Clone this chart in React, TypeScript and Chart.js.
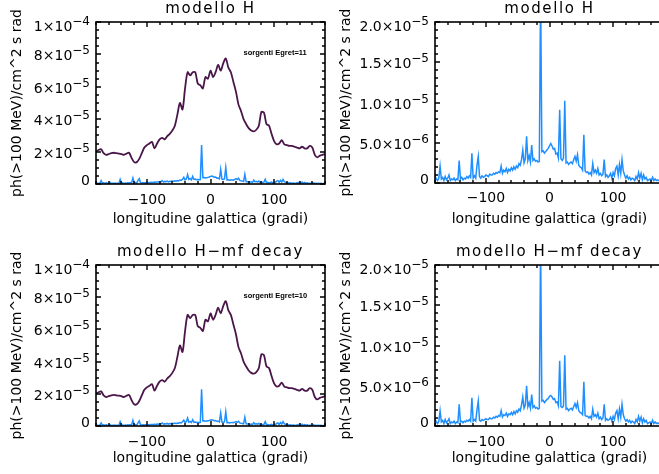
import React, { useEffect, useRef } from 'react';
import { Chart, registerables } from 'chart.js';

Chart.register(...registerables);

// ---------------- data ----------------
const LON_MIN = -180;
const LON_MAX = 180;
const TOTAL_STEP = 4; // degrees between samples of the total profile
const SRC_STEP = 2; // degrees between samples of the source profiles

const xTickValues = [-100, 0, 100];
const xTickLabels = ['\u2212100', '0', '100'];
const xMinorStep = 20;

const yTicksWide = [0, 2e-5, 4e-5, 6e-5, 8e-5, 1e-4];
const yLabelsWide = ['0', '2\u00d710^\u22125', '4\u00d710^\u22125', '6\u00d710^\u22125', '8\u00d710^\u22125', '1\u00d710^\u22124'];
const yMinorWide = 5e-6;

const yTicksZoom = [0, 5e-6, 1e-5, 1.5e-5, 2e-5];
const yLabelsZoom = ['0', '5.0\u00d710^\u22126', '1.0\u00d710^\u22125', '1.5\u00d710^\u22125', '2.0\u00d710^\u22125'];
const yMinorZoom = 1e-6;

// total emission (units of 1e-5), l = -180 .. 180 every 4 deg
const totalFlux = [
  2.0, 2.1, 2.15, 1.9, 1.8, 1.85, 1.9, 1.93, 1.9, 1.88,
  1.85, 1.8, 1.88, 1.93, 1.6, 1.35, 1.35, 1.55, 1.9, 2.25,
  2.4, 2.5, 2.6, 2.2, 2.5, 2.75, 2.85, 2.75, 2.95, 3.1,
  3.3, 3.6, 4.3, 5.0, 4.6, 5.9, 6.9, 6.7, 6.9, 6.9,
  6.2, 6.1, 5.9, 6.6, 6.5, 7.0, 6.6, 6.9, 7.35, 7.0,
  7.45, 7.75, 7.2, 6.9, 6.3, 5.7, 4.9, 4.5, 4.0, 3.7,
  3.45, 3.3, 3.25, 3.35, 3.6, 4.45, 4.4, 3.7, 3.6, 3.1,
  2.65, 2.45, 2.5, 2.7, 2.45, 2.4, 2.35, 2.35, 2.3, 2.25,
  2.2, 2.3, 2.2, 2.2, 2.35, 2.25, 1.8, 1.65, 1.75, 1.8,
  1.85,
];

// source contribution, modello H (units of 1e-6), l = -180 .. 180 every 2 deg
const srcFluxH = [
  0.9, 0.5, 0.3, 0.6, 2.1, 0.5, 0.7, 0.3, 0.8, 0.4,
  0.6, 1.0, 0.3, 0.5, 0.4, 0.6, 0.3, 0.5, 0.4, 2.8,
  0.5, 0.7, 0.4, 0.6, 0.5, 0.8, 0.6, 0.9, 0.7, 3.7,
  0.6, 0.9, 0.6, 2.2, 3.3, 0.8, 0.6, 0.9, 0.7, 0.8,
  1.0, 0.9, 0.8, 1.1, 1.0, 1.0, 1.2, 1.1, 1.3, 1.2,
  1.4, 1.3, 2.1, 1.2, 1.6, 1.4, 1.8, 1.3, 1.7, 1.5,
  1.9, 1.6, 2.0, 1.7, 2.1, 1.9, 2.4, 2.2, 2.9, 4.1,
  2.5, 3.0, 5.8, 2.8, 3.4, 2.6, 4.7, 2.8, 3.0, 2.7,
  2.8, 2.6, 2.7, 24.0, 3.9, 4.0, 3.7, 3.9, 4.1, 4.3,
  4.6, 4.9, 4.6, 4.2, 4.3, 3.6, 3.7, 3.1, 9.1, 3.0,
  2.8, 3.1, 10.2, 2.5, 2.6, 2.3, 2.5, 2.6, 2.4, 2.9,
  3.3, 2.7, 3.5, 2.2, 2.0, 1.9, 1.6, 6.0, 1.5, 1.3,
  1.4, 1.1, 1.3, 1.0, 2.4, 1.3, 1.6, 1.2, 1.8, 1.0,
  1.2, 0.9, 1.1, 2.9, 0.8, 1.0, 0.7, 0.9, 1.2, 0.6,
  1.3, 0.9, 1.8, 2.1, 1.0, 2.3, 1.2, 2.9, 1.5, 1.0,
  0.6, 0.9, 0.5, 0.7, 0.4, 0.6, 0.5, 0.3, 0.8, 0.5,
  1.3, 0.6, 1.2, 0.4, 1.0, 0.5, 0.7, 0.3, 0.4, 0.5,
  0.3, 0.7, 0.3, 0.5, 0.3, 0.4, 0.3, 0.4, 0.2, 0.3,
  0.3,
];

// source contribution, modello H-mf decay (units of 1e-6)
const srcFluxHmf = [
  0.9, 0.5, 0.3, 0.6, 1.9, 0.5, 0.7, 0.3, 0.8, 0.4,
  0.6, 0.9, 0.3, 0.5, 0.4, 0.6, 0.3, 0.5, 0.4, 2.7,
  0.5, 0.6, 0.4, 0.6, 0.5, 0.7, 0.6, 0.8, 0.6, 3.5,
  0.6, 0.8, 0.6, 2.0, 3.1, 0.7, 0.6, 0.8, 0.7, 0.8,
  0.9, 0.8, 0.8, 1.0, 0.9, 0.9, 1.1, 1.0, 1.2, 1.1,
  1.3, 1.2, 1.9, 1.1, 1.4, 1.3, 1.6, 1.2, 1.5, 1.4,
  1.7, 1.4, 1.8, 1.5, 1.9, 1.7, 2.1, 1.9, 2.6, 3.6,
  2.2, 2.6, 5.0, 2.4, 2.9, 2.2, 3.9, 2.3, 2.5, 2.2,
  2.3, 2.1, 2.2, 22.8, 3.1, 3.2, 2.9, 3.1, 3.3, 3.4,
  3.7, 3.8, 3.6, 3.3, 3.4, 2.9, 3.0, 2.5, 8.1, 2.4,
  2.3, 2.5, 8.8, 2.1, 2.2, 1.9, 2.1, 2.2, 2.0, 2.4,
  2.8, 2.3, 2.9, 1.9, 1.7, 1.6, 1.4, 5.5, 1.3, 1.2,
  1.2, 1.0, 1.2, 0.9, 2.1, 1.2, 1.4, 1.1, 1.6, 0.9,
  1.1, 0.8, 1.0, 2.7, 0.7, 0.9, 0.7, 0.8, 1.1, 0.6,
  1.2, 0.8, 1.6, 1.9, 0.9, 2.1, 1.1, 2.7, 1.4, 0.9,
  0.6, 0.8, 0.5, 0.7, 0.4, 0.6, 0.5, 0.3, 0.8, 0.5,
  1.2, 0.6, 1.1, 0.4, 0.9, 0.5, 0.7, 0.3, 0.4, 0.5,
  0.3, 0.7, 0.3, 0.5, 0.3, 0.4, 0.3, 0.4, 0.2, 0.3,
  0.3,
];

const TOTAL_UNIT = 1e-5;
const SRC_UNIT = 1e-6;

// ---------------- style ----------------
const FONT = 'DejaVu Sans';
const PURPLE = '#4a164a';
const BLUE = '#1f8fff';

const toPoints = (vals: number[], step: number, unit: number) =>
  vals.map((v, i) => ({ x: LON_MIN + i * step, y: v * unit }));

function drawFrame(chart: any, opts: any) {
  const ctx = chart.ctx;
  const a = chart.chartArea;
  const xs = chart.scales.x;
  const ys = chart.scales.y;
  ctx.save();
  ctx.globalAlpha = 1;
  ctx.setLineDash([]);
  ctx.strokeStyle = '#000000';
  const L = Math.round(a.left);
  const R = Math.round(a.right);
  const T = Math.round(a.top);
  const B = Math.round(a.bottom);
  ctx.lineWidth = 1.6;
  ctx.strokeRect(L, T, R - L, B - T);
  ctx.lineWidth = 1.4;
  ctx.beginPath();
  const nx = Math.round((LON_MAX - LON_MIN) / xMinorStep);
  for (let i = 0; i <= nx; i++) {
    const v = LON_MIN + i * xMinorStep;
    const len = xTickValues.includes(v) ? 5 : 3;
    const p = Math.round(xs.getPixelForValue(v));
    ctx.moveTo(p, B); ctx.lineTo(p, B - len);
    ctx.moveTo(p, T); ctx.lineTo(p, T + len);
  }
  const ticks: number[] = opts.yTicks;
  const major = ticks[1] - ticks[0];
  const ny = Math.round(ticks[ticks.length - 1] / opts.yMinor);
  const per = Math.round(major / opts.yMinor);
  for (let i = 0; i <= ny; i++) {
    const v = i * opts.yMinor;
    const len = i % per === 0 ? 5 : 3;
    const p = Math.round(ys.getPixelForValue(v));
    ctx.moveTo(L, p); ctx.lineTo(L + len, p);
    ctx.moveTo(R, p); ctx.lineTo(R - len, p);
  }
  ctx.stroke();
  ctx.restore();
}

const idlFrame = {
  id: 'idlFrame',
  beforeDraw(chart: any) {
    try { chart.ctx.letterSpacing = '1.6px'; } catch (e) {}
  },
  beforeDatasetsDraw(chart: any) {
    try { chart.ctx.letterSpacing = '0px'; } catch (e) {}
  },
  afterDraw(chart: any, _args: any, opts: any) {
    const ctx = chart.ctx;
    const a = chart.chartArea;
    const xs = chart.scales.x;
    const ys = chart.scales.y;
    drawFrame(chart, opts);
    ctx.save();
    try { ctx.letterSpacing = '0px'; } catch (e) {}
    ctx.fillStyle = '#000';
    ctx.textAlign = 'right';
    ctx.textBaseline = 'alphabetic';
    const ticks: number[] = opts.yTicks;
    ticks.forEach((v: number, i: number) => {
      const [base, exp] = opts.yLabels[i].split('^');
      const py = ys.getPixelForValue(v);
      const cy = Math.min(Math.max(py + 1, a.top + 4), a.bottom - 4);
      const baseY = cy + 5;
      let rx = a.left - 6;
      if (exp) {
        ctx.font = `12px "${FONT}"`;
        ctx.fillText(exp, rx, baseY - 6);
        rx -= ctx.measureText(exp).width;
      }
      ctx.font = `14px "${FONT}"`;
      ctx.fillText(base, rx, baseY);
    });
    if (opts.note) {
      ctx.font = `bold 7.5px "Liberation Sans"`;
      ctx.textAlign = 'left';
      ctx.textBaseline = 'middle';
      ctx.fillText(opts.note, xs.getPixelForValue(52), ys.getPixelForValue(8.1e-5));
    }
    ctx.restore();
  },
};

type PanelDef = {
  key: string;
  left: number;
  top: number;
  width: number;
  height: number;
  title: string;
  titlePadTop: number;
  titlePadBottom: number;
  yAxisWidth: number;
  xAxisHeight: number;
  padRight: number;
  xTickPad: number;
  xTitlePadBottom: number;
  zoomed: boolean;
  src: number[];
  note: string;
};

const panels: PanelDef[] = [
  { key: 'tl', left: 0, top: 0, width: 330, height: 237, title: 'modello H', titlePadTop: 0, titlePadBottom: 4,
    yAxisWidth: 96, xAxisHeight: 53, padRight: 5, xTickPad: 8, xTitlePadBottom: 9.4, zoomed: false, src: srcFluxH, note: 'sorgenti Egret=11' },
  { key: 'tr', left: 329, top: 0, width: 335, height: 237, title: 'modello H', titlePadTop: 0, titlePadBottom: 4,
    yAxisWidth: 106, xAxisHeight: 54, padRight: 0, xTickPad: 7, xTitlePadBottom: 9.4, zoomed: true, src: srcFluxH, note: '' },
  { key: 'bl', left: 0, top: 242, width: 330, height: 232, title: 'modello H\u2212mf decay', titlePadTop: 1, titlePadBottom: 4,
    yAxisWidth: 96, xAxisHeight: 48, padRight: 5, xTickPad: 8, xTitlePadBottom: 7.4, zoomed: false, src: srcFluxHmf, note: 'sorgenti Egret=10' },
  { key: 'br', left: 329, top: 242, width: 335, height: 232, title: 'modello H\u2212mf decay', titlePadTop: 1, titlePadBottom: 4,
    yAxisWidth: 106, xAxisHeight: 48, padRight: 0, xTickPad: 8, xTitlePadBottom: 7.4, zoomed: true, src: srcFluxHmf, note: '' },
];

function Panel({ p }: { p: PanelDef }) {
  const ref = useRef<HTMLCanvasElement | null>(null);
  useEffect(() => {
    const canvas = ref.current;
    if (!canvas) return;
    const datasets: any[] = [];
    if (!p.zoomed) {
      datasets.push({
        data: toPoints(totalFlux, TOTAL_STEP, TOTAL_UNIT),
        borderColor: PURPLE,
        borderWidth: 1.8,
        pointRadius: 0,
        tension: 0.3,
        clip: 0,
      });
    }
    datasets.push({
      data: toPoints(p.src, SRC_STEP, SRC_UNIT),
      borderColor: BLUE,
      borderWidth: 1.5,
      pointRadius: 0,
      tension: 0,
      clip: 0,
    });
    const yTicks = p.zoomed ? yTicksZoom : yTicksWide;
    const yLabels = p.zoomed ? yLabelsZoom : yLabelsWide;
    const yMinor = p.zoomed ? yMinorZoom : yMinorWide;
    const chart = new Chart(canvas, {
      type: 'line',
      data: { datasets },
      plugins: [idlFrame],
      options: {
        animation: false,
        responsive: false,
        events: [],
        layout: { padding: { left: 0, right: p.padRight, top: 0, bottom: 0 } },
        plugins: {
          legend: { display: false },
          tooltip: { enabled: false },
          title: {
            display: true,
            text: p.title,
            fullSize: false,
            color: '#000',
            font: { family: FONT, size: 15, weight: 'normal', lineHeight: 1.2 },
            padding: { top: p.titlePadTop, bottom: p.titlePadBottom },
          },
          idlFrame: { yTicks, yLabels, yMinor, note: p.note },
        } as any,
        scales: {
          x: {
            type: 'linear',
            min: LON_MIN,
            max: LON_MAX,
            grid: { display: false, drawTicks: false, z: 1 },
            border: { display: false, z: 1 },
            afterBuildTicks: (s: any) => { s.ticks = xTickValues.map((value) => ({ value })); },
            afterFit: (s: any) => { s.height = p.xAxisHeight; },
            ticks: {
              z: 1,
              padding: p.xTickPad,
              maxRotation: 0,
              autoSkip: false,
              color: '#000',
              font: { family: FONT, size: 14 },
              callback: (_v: any, i: number) => xTickLabels[i],
            },
            title: {
              display: true,
              text: 'longitudine galattica (gradi)',
              color: '#000',
              font: { family: FONT, size: 14, lineHeight: 1.2 },
              padding: { top: 0, bottom: p.xTitlePadBottom },
            },
          },
          y: {
            type: 'linear',
            min: 0,
            max: yTicks[yTicks.length - 1],
            grid: { display: false, drawTicks: false, z: 1 },
            border: { display: false, z: 1 },
            afterBuildTicks: (s: any) => { s.ticks = yTicks.map((value) => ({ value })); },
            afterFit: (s: any) => { s.width = p.yAxisWidth; },
            ticks: { display: false, z: 1 },
            title: {
              display: true,
              text: 'ph(>100 MeV)/cm^2 s rad',
              color: '#000',
              font: { family: FONT, size: 14, lineHeight: 1.2 },
              padding: { top: 9.1, bottom: 0 },
            },
          },
        } as any,
      } as any,
    });
    return () => chart.destroy();
  }, [p]);
  return (
    <canvas
      ref={ref}
      width={p.width}
      height={p.height}
      style={{ position: 'absolute', left: p.left, top: p.top, width: p.width, height: p.height, display: 'block' }}
    />
  );
}

export default function App() {
  return (
    <div style={{ position: 'absolute', left: 0, top: 0, width: 659, height: 474, overflow: 'hidden', background: '#fff' }}>
      {panels.map((p) => (
        <Panel key={p.key} p={p} />
      ))}
    </div>
  );
}
